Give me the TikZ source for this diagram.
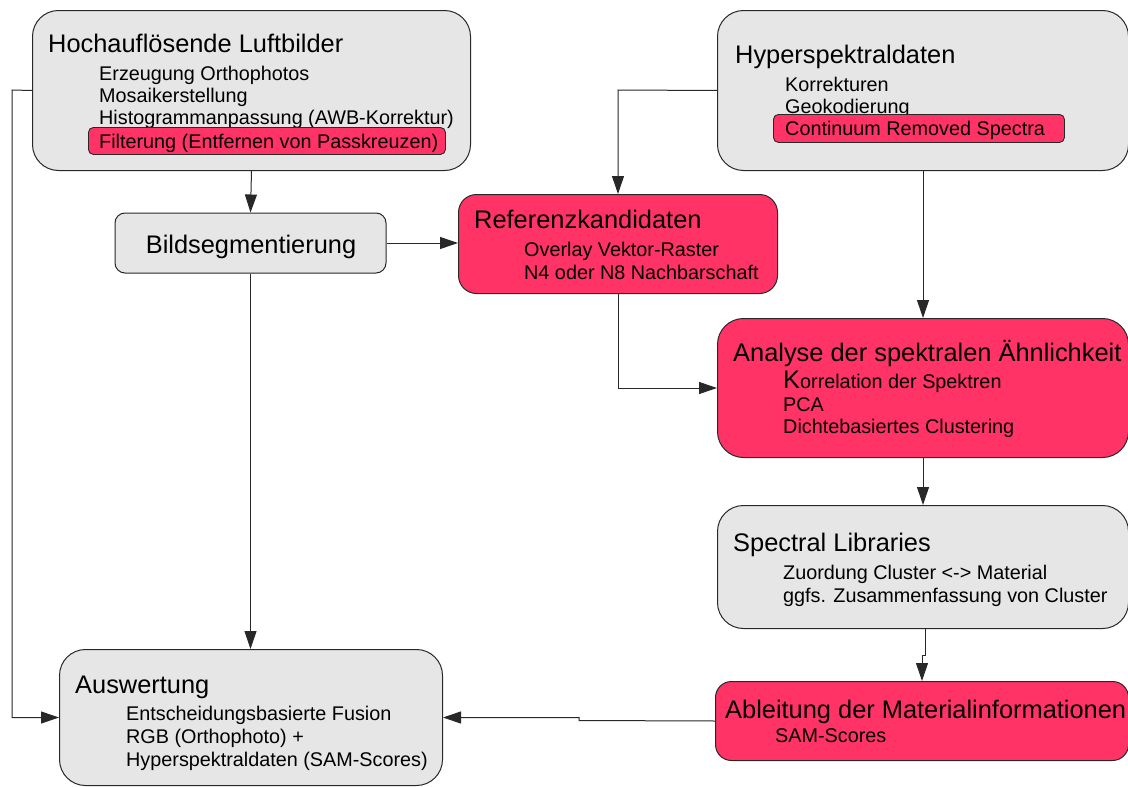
\documentclass[tikz,border=0pt]{standalone}
\usepackage{fontspec}
\setmainfont{Liberation Sans}
\usetikzlibrary{arrows.meta}
\definecolor{boxgray}{RGB}{230,230,230}
\definecolor{boxpink}{RGB}{255,51,102}
\definecolor{edge}{RGB}{40,40,40}
\begin{document}
\begin{tikzpicture}[x=1pt,y=-1pt,
  panel/.style={draw=edge,line width=1pt,rounded corners=26pt,inner sep=0pt,anchor=north west},
  graypanel/.style={panel,fill=boxgray},
  pinkpanel/.style={panel,fill=boxpink},
  tag/.style={draw=edge,line width=0.9pt,rounded corners=5pt,fill=boxpink,inner sep=0pt,anchor=north west},
  head/.style={inner sep=0pt,anchor=base west,font=\fontsize{25.4}{30}\selectfont},
  item/.style={inner sep=0pt,anchor=base west,font=\fontsize{19.8}{23}\selectfont},
  conn/.style={draw=edge,line width=1pt,-{Triangle[length=18pt,width=12pt]}}]
\useasboundingbox (0,0) rectangle (1128,787);
\fill[white] (0,0) rectangle (1128,787);

% ---- Hochaufloesende Luftbilder
\node[graypanel,minimum width=438pt,minimum height=160pt] (luft) at (32,10) {};
\node[head] (luftT) at (48,52) {Hochauflösende Luftbilder};
\node[item] (luft1) at (99,80) {Erzeugung Orthophotos};
\node[item] (luft2) at (99,102) {Mosaikerstellung};
\node[item] (luft3) at (99,124) {Histogrammanpassung (AWB-Korrektur)};
\node[tag,minimum width=357pt,minimum height=27pt] (filtbox) at (88,127) {};
\node[item] (filt) at (99,148) {Filterung (Entfernen von Passkreuzen)};

% ---- Hyperspektraldaten
\node[graypanel,minimum width=411pt,minimum height=160pt] (hyper) at (717,10) {};
\node[head] (hyperT) at (735,63) {Hyperspektraldaten};
\node[item] (hyper1) at (785,91) {Korrekturen};
\node[item] (hyper2) at (785,113) {Geokodierung};
\node[tag,minimum width=291pt,minimum height=28pt] (crsbox) at (773,114) {};
\node[item] (crs) at (785,135) {Continuum Removed Spectra};

% ---- Bildsegmentierung
\node[draw=edge,line width=1pt,rounded corners=10pt,fill=boxgray,inner sep=0pt,
      minimum width=271pt,minimum height=60pt] (bild) at (250.5,243) {};
\node[inner sep=0pt,anchor=base,font=\fontsize{25.4}{30}\selectfont] (bildT) at (251,253) {Bildsegmentierung};

% ---- Referenzkandidaten
\node[pinkpanel,rounded corners=18pt,minimum width=319pt,minimum height=99pt] (ref) at (458,194) {};
\node[head] (refT) at (474,228) {Referenzkandidaten};
\node[item] (ref1) at (524,256) {Overlay Vektor-Raster};
\node[item] (ref2) at (524,279) {N4 oder N8 Nachbarschaft};

% ---- Analyse der spektralen Aehnlichkeit
\node[pinkpanel,minimum width=411pt,minimum height=139pt] (ana) at (717,318) {};
\node[head] (anaT) at (733,361) {Analyse der spektralen Ähnlichkeit};
\node[item] (ana1) at (783,388) {{\fontsize{25.4}{30}\selectfont K}orrelation der Spektren};
\node[item] (ana2) at (783,411) {PCA};
\node[item] (ana3) at (783,433) {Dichtebasiertes Clustering};

% ---- Spectral Libraries
\node[graypanel,minimum width=411pt,minimum height=123pt] (lib) at (717,505) {};
\node[head] (libT) at (733,551) {Spectral Libraries};
\node[item] (lib1) at (783,579) {Zuordung Cluster <-> Material};
\node[item] (lib2) at (783,602) {ggfs. Zusammenfassung von Cluster};

% ---- Ableitung der Materialinformationen
\node[pinkpanel,rounded corners=16pt,minimum width=413pt,minimum height=79pt] (abl) at (715,681) {};
\node[head] (ablT) at (725,718) {Ableitung der Materialinformationen};
\node[item] (abl1) at (775,742) {SAM-Scores};

% ---- Auswertung
\node[graypanel,minimum width=383pt,minimum height=136pt] (ausw) at (59,649) {};
\node[head] (auswT) at (75,693) {Auswertung};
\node[item] (ausw1) at (126,720) {Entscheidungsbasierte Fusion};
\node[item] (ausw2) at (126,743) {RGB (Orthophoto) +};
\node[item] (ausw3) at (126,766) {Hyperspektraldaten (SAM-Scores)};

% ---- connectors
\coordinate (leftrail) at (12,90);
\coordinate (midrail) at (618,90);
\coordinate (ablrail) at (579,720.5);
\coordinate (libjog) at (925,655);
\draw[conn] (luft.south) -- (bild.north);
\draw[conn] (luft.west) -- (leftrail) |- (ausw.west);
\draw[conn] (bild.east) -- (bild.east -| ref.west);
\draw[conn] (bild.south) -- (bild.south |- ausw.north);
\draw[conn] (hyper.west) -- (midrail) -- (midrail |- ref.north);
\draw[conn] (hyper.south) -- (ana.north);
\draw[conn] (ref.south) |- (ana.west);
\draw[conn] (ana.south) -- (lib.north);
\draw[conn] (libjog |- lib.south) -- (libjog) -| (abl.north);
\draw[conn] (abl.west) -- (ablrail) |- (ausw.east);
\end{tikzpicture}
\end{document}
